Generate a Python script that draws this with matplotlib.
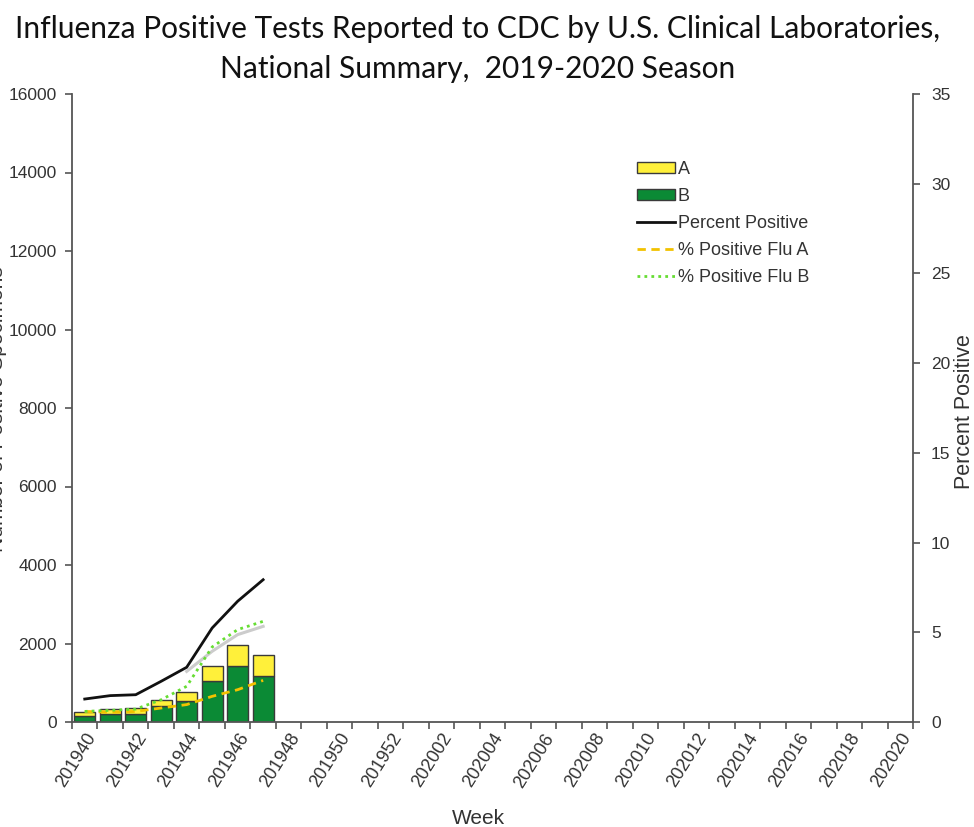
import matplotlib
matplotlib.use("Agg")
import matplotlib.pyplot as plt
import numpy as np
from matplotlib.patches import Patch
from matplotlib.lines import Line2D

# ---- data ----
weeks = [f"2019{w}" for w in range(40, 53)] + [f"2020{w:02d}" for w in range(1, 21)]
flu_a = [120, 115, 136, 160, 238, 382, 535, 535]          # A specimens
flu_b = [143, 208, 212, 400, 526, 1036, 1435, 1163]       # B specimens
pct_total = [1.28, 1.47, 1.52, 2.27, 3.05, 5.24, 6.73, 7.93]
pct_a = [0.59, 0.54, 0.59, 0.78, 0.97, 1.43, 1.80, 2.32]
pct_b = [0.59, 0.65, 0.72, 1.24, 1.99, 4.18, 5.15, 5.61]
pct_grey = [np.nan, np.nan, np.nan, np.nan, 2.82, 3.94, 4.87, 5.33]

title = "Influenza Positive Tests Reported to CDC by U.S. Clinical Laboratories,\nNational Summary,  2019-2020 Season"

# ---- plot ----
plt.rcParams['font.family'] = ['Liberation Sans', 'DejaVu Sans']
fig = plt.figure(figsize=(9.74, 8.27), dpi=100)
ax = fig.add_axes([72/974, 1-722/827, (913-72)/974, (722-94)/827])
ax2 = ax.twinx()

n = len(weeks)
x = np.arange(len(flu_a))
yellow = '#FFF03A'
green = '#0B8A35'
edge = '#3a3a3a'
ax.bar(x, flu_b, width=0.82, color=green, edgecolor=edge, linewidth=1.0, zorder=2)
ax.bar(x, flu_a, width=0.82, bottom=flu_b, color=yellow, edgecolor=edge, linewidth=1.0, zorder=2)

ax2.plot(x, pct_grey, color='#cccccc', lw=2.2, zorder=3)
ax2.plot(x, pct_total, color='#111111', lw=2.0, zorder=4)
ax2.plot(x, pct_a, color='#F2C200', lw=2.0, ls=(0, (3, 2)), zorder=4)
ax2.plot(x, pct_b, color='#66DD33', lw=2.0, ls=(0, (1, 1.5)), zorder=4)

ax.set_xlim(-0.5, n - 0.5)
ax.set_ylim(0, 16000)
ax2.set_ylim(0, 35)
ax.set_yticks(np.arange(0, 16001, 2000))
ax2.set_yticks(np.arange(0, 36, 5))

axis_col = '#555555'
txt_col = '#333333'
for a in (ax, ax2):
    for s in a.spines.values():
        s.set_visible(False)
ax.spines['left'].set_visible(True)
ax.spines['bottom'].set_visible(True)
ax2.spines['right'].set_visible(True)
for s in (ax.spines['left'], ax.spines['bottom'], ax2.spines['right']):
    s.set_color(axis_col)
    s.set_linewidth(1.3)

ax.set_xticks(np.arange(-0.5, n, 1.0))
ax.set_xticklabels([])
ax.tick_params(axis='x', which='major', length=5, color=axis_col, width=1.2)
ax.set_xticks(np.arange(0, n, 2), minor=True)
ax.set_xticklabels(weeks[::2], minor=True, rotation=58, ha='right',
                   rotation_mode='anchor', fontsize=13, color=txt_col)
ax.tick_params(axis='x', which='minor', length=0, pad=6)
ax.tick_params(axis='y', length=5, color=axis_col, width=1.2, labelsize=12.5,
               labelcolor=txt_col, pad=6)
ax2.tick_params(axis='y', length=5, color=axis_col, width=1.2, labelsize=12.5,
                labelcolor=txt_col, pad=8)

fig.text(478/974, 1-818/827, 'Week', ha='center', va='center', fontsize=15, color=txt_col)
fig.text(964/974, 1-412/827, 'Percent Positive', rotation=90, ha='center',
         va='center', fontsize=15.5, color=txt_col)
fig.text(-0.003, 0.505, 'Number of Positive Specimens', rotation=90, ha='center',
         va='center', fontsize=15, color=txt_col)

fig.text(0.49, 1-49/827, title, ha='center', va='center', fontsize=21.5,
         family=['Lato', 'DejaVu Sans'], linespacing=1.5, color='#111111')

handles = [
    Patch(facecolor=yellow, edgecolor=edge, lw=1.0),
    Patch(facecolor=green, edgecolor=edge, lw=1.0),
    Line2D([], [], color='#111111', lw=2.0),
    Line2D([], [], color='#F2C200', lw=2.0, ls=(0, (3, 2))),
    Line2D([], [], color='#66DD33', lw=2.0, ls=(0, (1, 1.5))),
]
labels = ['A', 'B', 'Percent Positive', '% Positive Flu A', '% Positive Flu B']
leg = ax2.legend(handles, labels, loc='upper left', bbox_to_anchor=((637-72)/841, 1-(161-94)/628),
                 frameon=False, fontsize=13, handlelength=2.1, handleheight=0.55,
                 handletextpad=0.15, labelspacing=0.55, borderaxespad=0, borderpad=0)
for t in leg.get_texts():
    t.set_color(txt_col)

fig.savefig('out.png', dpi=100)
